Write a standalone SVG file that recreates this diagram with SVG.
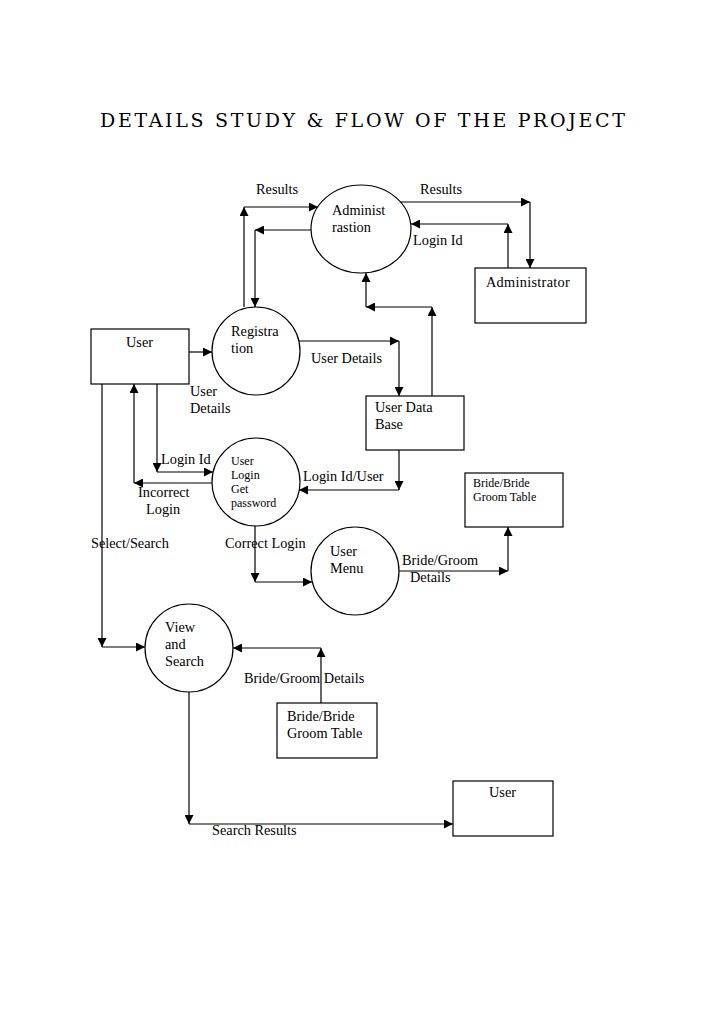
<svg xmlns="http://www.w3.org/2000/svg" width="728" height="1030" viewBox="0 0 728 1030">
<style>
text{font-family:"Liberation Serif","Times New Roman",serif;font-size:14.3px;fill:#000}
.sm{font-size:12px}
.title{font-family:"DejaVu Serif","Liberation Serif",serif;font-size:19px}
.shape{fill:#fff;stroke:#000;stroke-width:1.2}
.c line{stroke:#000;stroke-width:1.2;marker-end:url(#ah)}
</style>
<defs>
<marker id="ah" viewBox="0 0 10 10" refX="10" refY="5" markerWidth="9" markerHeight="9" markerUnits="userSpaceOnUse" orient="auto">
<path d="M0,0 L10,5 L0,10 z" fill="#000"/>
</marker>
</defs>
<rect width="728" height="1030" fill="#fff"/>
<text class="title" x="100" y="127" textLength="525" lengthAdjust="spacing">DETAILS STUDY &amp; FLOW OF THE PROJECT</text>

<g class="c" id="connectors">
<line x1="244" y1="307" x2="244" y2="207"/><line x1="244" y1="207" x2="318" y2="207"/>
<line x1="311" y1="230" x2="255" y2="230"/><line x1="255" y1="230" x2="255" y2="307"/>
<line x1="400" y1="202" x2="530" y2="202"/><line x1="530" y1="202" x2="530" y2="268"/>
<line x1="508" y1="268" x2="508" y2="224"/><line x1="508" y1="224" x2="411" y2="224"/>
<line x1="432" y1="396" x2="432" y2="307"/><line x1="432" y1="307" x2="366" y2="307"/><line x1="366" y1="307" x2="366" y2="273"/>
<line x1="189" y1="352" x2="212" y2="352"/>
<line x1="299" y1="341" x2="399" y2="341"/><line x1="399" y1="341" x2="399" y2="396"/>
<line x1="157" y1="384" x2="157" y2="472"/><line x1="157" y1="472" x2="213" y2="472"/>
<line x1="212" y1="483" x2="134" y2="483"/><line x1="134" y1="483" x2="134" y2="384"/>
<line x1="399" y1="450" x2="399" y2="490"/><line x1="399" y1="490" x2="299" y2="490"/>
<line x1="255" y1="526" x2="255" y2="582"/><line x1="255" y1="582" x2="312" y2="582"/>
<line x1="399" y1="571" x2="508" y2="571"/><line x1="508" y1="571" x2="508" y2="527"/>
<line x1="102" y1="384" x2="102" y2="647"/><line x1="102" y1="647" x2="145" y2="647"/>
<line x1="321" y1="703" x2="321" y2="648"/><line x1="321" y1="648" x2="233" y2="648"/>
<line x1="189" y1="692" x2="189" y2="824"/><line x1="189" y1="824" x2="453" y2="824"/>
</g>

<g id="labels">
<text x="256" y="194">Results</text>
<text x="420" y="194">Results</text>
<text x="413" y="245">Login Id</text>
<text x="311" y="363">User Details</text>
<text x="190" y="396">User</text>
<text x="190" y="413">Details</text>
<text x="161" y="464">Login Id</text>
<text x="138" y="497">Incorrect</text>
<text x="146" y="514">Login</text>
<text x="303" y="481">Login Id/User</text>
<text x="91" y="548">Select/Search</text>
<text x="225" y="548">Correct Login</text>
<text x="402" y="565">Bride/Groom</text>
<text x="410" y="582">Details</text>
<text x="244" y="683">Bride/Groom Details</text>
<text x="212" y="835">Search Results</text>
</g>

<g id="administration">
<ellipse class="shape" cx="361" cy="229" rx="50" ry="44"/>
<text x="332" y="215">Administ</text>
<text x="332" y="232">rastion</text>
</g>
<g id="administrator">
<rect class="shape" x="475" y="268" width="111" height="55"/>
<text x="486" y="287" letter-spacing="0.3">Administrator</text>
</g>
<g id="user-top">
<rect class="shape" x="91" y="329" width="98" height="55"/>
<text x="126" y="347">User</text>
</g>
<g id="registration">
<circle class="shape" cx="256" cy="351" r="44"/>
<text x="231" y="336">Registra</text>
<text x="231" y="353">tion</text>
</g>
<g id="user-database">
<rect class="shape" x="366" y="396" width="98" height="54"/>
<text x="375" y="412">User Data</text>
<text x="375" y="429">Base</text>
</g>
<g id="user-login">
<circle class="shape" cx="256" cy="482" r="44"/>
<text class="sm" x="231" y="465">User</text>
<text class="sm" x="231" y="479">Login</text>
<text class="sm" x="231" y="493">Get</text>
<text class="sm" x="231" y="507">password</text>
</g>
<g id="bride-table-top">
<rect class="shape" x="465" y="473" width="98" height="54"/>
<text class="sm" x="473" y="487">Bride/Bride</text>
<text class="sm" x="473" y="501">Groom Table</text>
</g>
<g id="user-menu">
<circle class="shape" cx="355" cy="571" r="44"/>
<text x="330" y="556">User</text>
<text x="330" y="573">Menu</text>
</g>
<g id="view-search">
<circle class="shape" cx="189" cy="648" r="44"/>
<text x="165" y="632">View</text>
<text x="165" y="649">and</text>
<text x="165" y="666">Search</text>
</g>
<g id="bride-table-bottom">
<rect class="shape" x="277" y="703" width="100" height="55"/>
<text x="287" y="721">Bride/Bride</text>
<text x="287" y="738">Groom Table</text>
</g>
<g id="user-bottom">
<rect class="shape" x="453" y="781" width="100" height="55"/>
<text x="489" y="797">User</text>
</g>
</svg>
